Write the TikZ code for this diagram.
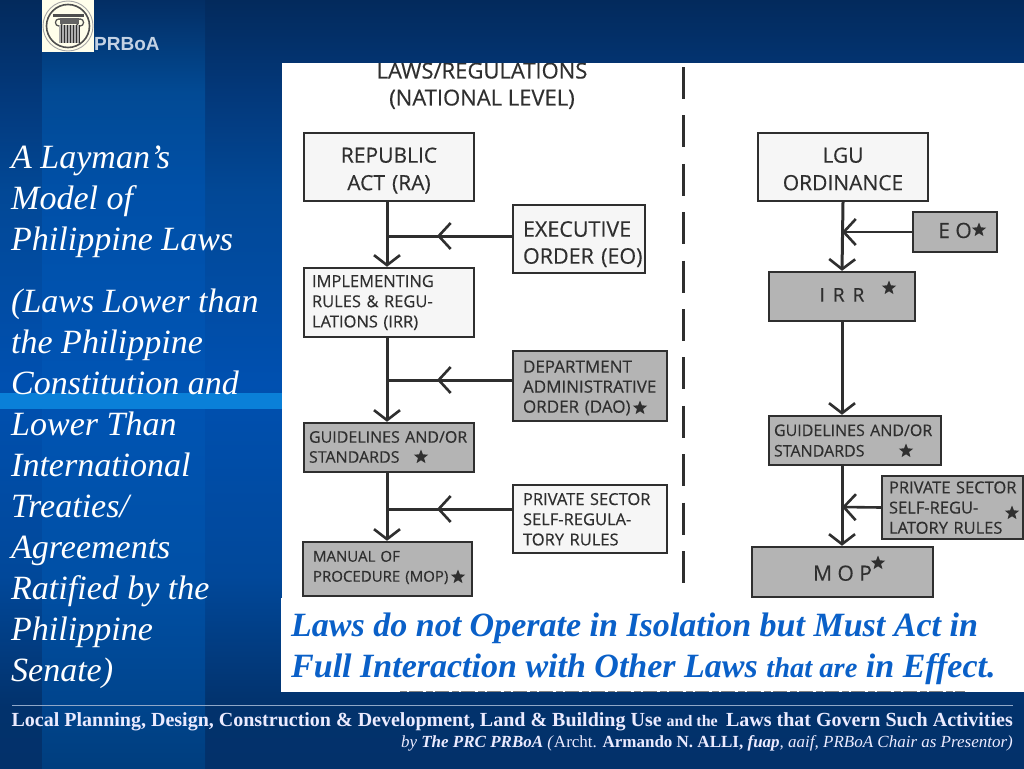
\documentclass[tikz,border=0pt]{standalone}
\usepackage{fontspec}
\setmainfont{Liberation Serif}
\newfontfamily\handfont[FakeBold=0.35]{Open Sans}
\newfontfamily\labelfont{Liberation Sans}
\usetikzlibrary{arrows.meta,decorations.markings,shapes.geometric}
\definecolor{inkc}{HTML}{2F2F2F}
\definecolor{lightbox}{HTML}{F6F6F6}
\definecolor{graybox}{HTML}{B4B4B4}
\definecolor{bandc}{HTML}{0A80D8}
\definecolor{bluetext}{HTML}{0A60C8}
\definecolor{rulec}{HTML}{8FA8C8}
\definecolor{prbc}{HTML}{C4D2E4}
\definecolor{oa}{HTML}{032A5C}
\definecolor{ob}{HTML}{03387A}
\definecolor{oc}{HTML}{024896}
\definecolor{od}{HTML}{0050B0}
\definecolor{oe}{HTML}{01489A}
\definecolor{of}{HTML}{02326C}
\definecolor{og}{HTML}{03316A}
\definecolor{ia}{HTML}{032E64}
\definecolor{ib}{HTML}{024A94}
\definecolor{ic}{HTML}{0050A8}
\definecolor{id}{HTML}{0054B4}
\definecolor{ie}{HTML}{0050A6}
\definecolor{if}{HTML}{00448C}
\definecolor{ig}{HTML}{003E7E}
\pgfdeclareverticalshading{outerbg}{100bp}{
 color(0bp)=(og); color(25bp)=(og); color(29bp)=(of); color(37.5bp)=(oe); color(50bp)=(od);
 color(62.5bp)=(oc); color(69bp)=(ob); color(75bp)=(oa); color(100bp)=(oa)}
\pgfdeclareverticalshading{innerbg}{100bp}{
 color(0bp)=(ig); color(25bp)=(ig); color(29bp)=(if); color(37.5bp)=(ie); color(50bp)=(id);
 color(62.5bp)=(ic); color(69bp)=(ib); color(75bp)=(ia); color(100bp)=(ia)}
\tikzset{
 x=1pt,y=-1pt,
 lawbox/.style={draw=inkc,line width=2.4pt,text=inkc,inner ysep=0pt,font=\handfont},
 pale/.style={lawbox,fill=lightbox},
 grayish/.style={lawbox,fill=graybox},
 bigtext/.style={font=\handfont\fontsize{21}{27.5}\selectfont,align=center,text width=150pt},
 smalltext/.style={font=\handfont\fontsize{16.5}{20.2}\selectfont,align=left,inner xsep=8pt},
 starmark/.style={star,star points=5,star point ratio=2.3,fill=inkc,draw=none,minimum size=15pt,inner sep=0pt},
 link/.style={draw=inkc,line width=3pt},
 downarrow/.style={link,-{Straight Barb[length=10pt,width=26pt,line width=2.6pt]}},
 sidearrow/.style={link,-{Straight Barb[length=12pt,width=26pt,line width=2.6pt]}},
 midarrow/.style={link,postaction={decorate},decoration={markings,mark=at position #1 with {\arrow{Straight Barb[length=12pt,width=26pt,line width=2.6pt]}}}},
 slide/.style={text=white,font=\fontsize{34}{41}\selectfont\itshape,align=left,inner sep=0pt,anchor=north west},
 upbase/.style={text height=0pt,text depth=#1},
 downbase/.style={text height=#1,text depth=0pt},
}
\begin{document}
\begin{tikzpicture}
\useasboundingbox (0,0) rectangle (1024,768);
% background
\shade[shading=outerbg] (0,0) rectangle (1024,768);
\shade[shading=innerbg] (42,0) rectangle (205,768);
\fill[bandc] (0,393) rectangle (282,409);
% white picture panel
\fill[white] (282,63) rectangle (1024,692);
\fill[white] (281,598) rectangle (1024,692);
\draw[inkc!60,line width=1.4pt,dash pattern=on 7pt off 2pt on 14pt off 3pt] (400,691.3) -- (965,691.3);
% logo
\fill[white!92!yellow] (42,0) rectangle (94,52);
\draw[gray!70,line width=.9pt] (68,26) circle (25);
\draw[inkc!85,line width=1.6pt] (68,26) circle (21.5);
\fill[inkc!85] (53,14) rectangle (84,17);
\draw[inkc!85,line width=1.2pt] (59,22.5) circle (3.6) (80,22.5) circle (3.6);
\fill[inkc!75] (60,18) rectangle (79,24);
\fill[inkc!40] (59,25) rectangle (80,43);
\foreach \xx in {61,64,...,79} {\draw[inkc,line width=.9pt] (\xx,25) -- (\xx,43);}
% heading, cut by the top of the panel
\begin{scope}
\clip (282,63) rectangle (1024,692);
\node[font=\handfont\fontsize{22}{27}\selectfont,text=inkc,align=center,anchor=north] (title) at (482,59) {LAWS/REGULATIONS\\(NATIONAL LEVEL)};
\end{scope}
% divider
\coordinate (dividertop) at (683,67);
\coordinate (dividerbot) at (683,584);
\draw[inkc,line width=3pt,dash pattern=on 32pt off 16.4pt] (dividertop) -- (dividerbot);
% national column
\node[pale,bigtext,upbase=8.6pt,minimum width=170pt,minimum height=68pt] (ra) at (389,167) {REPUBLIC\\ACT (RA)};
\node[pale,font=\handfont\fontsize{21.5}{27}\selectfont,align=left,upbase=4.6pt,inner xsep=10pt,text width=112pt,minimum height=68pt] (eo) at (579,239) {\mbox{EXECUTIVE}\\\mbox{ORDER (EO)}};
\node[pale,smalltext,upbase=31pt,text width=154pt,minimum height=69pt] (irr) at (389,302.5) {IMPLEMENTING\\RULES \& REGU-\\LATIONS (IRR)};
\node[grayish,smalltext,font=\handfont\fontsize{17}{20}\selectfont,upbase=26.6pt,inner xsep=10pt,text width=134pt,minimum height=70pt] (dao) at (590,386) {\mbox{DEPARTMENT}\\\mbox{ADMINISTRATIVE}\\\mbox{ORDER (DAO)}};
\node[grayish,smalltext,font=\handfont\fontsize{16}{20}\selectfont,upbase=9.6pt,inner xsep=5pt,text width=160pt,minimum height=49pt] (gs) at (389,447.5) {\mbox{GUIDELINES AND/OR}\\STANDARDS};
\node[pale,smalltext,upbase=28pt,inner xsep=10pt,text width=134pt,minimum height=68pt] (pss) at (590,519) {\mbox{PRIVATE SECTOR}\\\mbox{SELF-REGULA-}\\\mbox{TORY RULES}};
\node[grayish,smalltext,font=\handfont\fontsize{15}{20}\selectfont,upbase=14.6pt,inner xsep=10pt,text width=149pt,minimum height=54pt] (mop) at (387.5,569) {MANUAL OF\\\mbox{PROCEDURE (MOP)}};
\node[starmark] (sdao) at (640,408) {};
\node[starmark] (sgs) at (421,457) {};
\node[starmark] (smop) at (458,577) {};
\coordinate (j1) at (387,236);
\coordinate (j2) at (387,380);
\coordinate (j3) at (387,509);
\draw[downarrow] ([xshift=-2pt]ra.south) -- ([xshift=-2pt]irr.north);
\draw[downarrow] ([xshift=-2pt]irr.south) -- ([xshift=-2pt]gs.north);
\draw[downarrow] ([xshift=-2pt]gs.south) -- ([xshift=-.5pt]mop.north);
\path[midarrow=.6] (eo.west |- j1) -- (j1);
\path[midarrow=.6] (dao.west |- j2) -- (j2);
\path[midarrow=.6] (pss.west |- j3) -- (j3);
% local column
\node[pale,bigtext,upbase=8.6pt,minimum width=170pt,minimum height=68pt] (lgu) at (843,167) {LGU\\ORDINANCE};
\node[grayish,font=\handfont\fontsize{21}{24}\selectfont,downbase=12pt,minimum width=84pt,minimum height=40pt] (leo) at (955,232) {E O\hspace{15pt}};
\node[grayish,font=\handfont\fontsize{19}{24}\selectfont,downbase=10.4pt,minimum width=146pt,minimum height=49pt] (lirr) at (842,296.5) {I\hspace{8pt}R\hspace{8pt}R\hspace{6pt}};
\node[grayish,smalltext,font=\handfont\fontsize{16}{20.5}\selectfont,upbase=9pt,inner xsep=5pt,text width=162pt,minimum height=49pt] (lgs) at (855,440.5) {\mbox{GUIDELINES AND/OR}\\STANDARDS};
\node[grayish,smalltext,upbase=28.4pt,inner xsep=7pt,text width=127pt,minimum height=63pt] (lps) at (952.5,507.5) {\mbox{PRIVATE SECTOR}\\\mbox{SELF-REGU-}\\\mbox{LATORY RULES}};
\node[grayish,font=\handfont\fontsize{21}{24}\selectfont,downbase=17.4pt,minimum width=181pt,minimum height=50pt] (lmop) at (842.5,572) {M O P\hspace{18pt}};
\node[starmark] (sleo) at (979,230) {};
\node[starmark] (slirr) at (889,288) {};
\node[starmark] (slgs) at (906,451) {};
\node[starmark] (slps) at (1012,513) {};
\node[starmark] (slmop) at (878,563) {};
\coordinate (k1) at (842,232);
\coordinate (k2) at (842,507);
\draw[downarrow] (lgu.south) -- (lirr.north);
\draw[downarrow] (lirr.south) -- (lirr.south |- lgs.north);
\draw[downarrow] (lirr.south |- lgs.south) -- (lirr.south |- lmop.north);
\draw[sidearrow,line width=2.6pt] (leo.west) -- (k1);
\draw[sidearrow,line width=2.6pt] (lps.west) -- (k2);
% left text
\node[slide] (lead) at (11,146) {A Layman’s\\Model of\\Philippine Laws};
\node[slide] (body) at (11,288.5) {(Laws Lower than\\the Philippine\\Constitution and\\Lower Than\\International\\Treaties/\\Agreements\\Ratified by the\\Philippine\\Senate)};
% emblem caption
\node[font=\labelfont\bfseries\fontsize{19}{20}\selectfont,text=prbc,inner sep=0pt,anchor=base west] (prb) at (94,51) {PRBoA};
% blue statement
\node[font=\fontsize{34}{41}\selectfont\bfseries\itshape,text=bluetext,align=left,inner sep=0pt,anchor=north west] (stmt) at (291,613) {Laws do not Operate in Isolation but Must Act in\\Full Interaction with Other Laws {\fontsize{28.5}{41}\selectfont that are} in Effect.};
% footer
\coordinate (ruleL) at (12,705);
\coordinate (ruleR) at (1013,705);
\draw[rulec,line width=.8pt] (ruleL) -- (ruleR);
\node[font=\fontsize{20}{20}\selectfont\bfseries,text=white!92!blue,inner sep=0pt,anchor=base east] (foot1) at (1013,726) {Local Planning, Design, Construction \& Development, Land \& Building Use {\fontsize{16}{20}\selectfont and the}\, Laws that Govern Such Activities};
\node[font=\fontsize{17}{18}\selectfont,text=white!92!blue,inner sep=0pt,anchor=base east] (foot2) at (1013,747) {\itshape by \textbf{The PRC PRBoA} (\textup{Archt.} \textbf{\textup{Armando N. ALLI,}} \textbf{fuap}, aaif, PRBoA Chair as Presentor)};
\end{tikzpicture}
\end{document}
